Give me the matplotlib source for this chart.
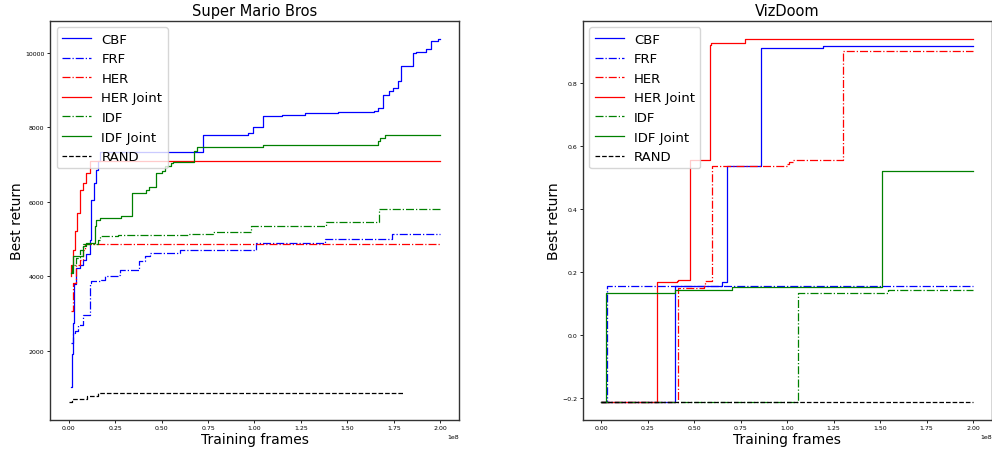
import matplotlib
matplotlib.use("Agg")
import matplotlib.pyplot as plt
import numpy as np

# frames in units of 1e8, step-post data
# ---- Super Mario Bros ----
mario_cbf_t = [0.014, 0.018, 0.023, 0.03, 0.041, 0.06, 0.077, 0.095, 0.113, 0.122, 0.135, 0.149, 0.158, 0.167,
               0.722, 0.964, 0.991, 1.045, 1.15, 1.269, 1.45, 1.645, 1.665, 1.69, 1.726, 1.744, 1.77, 1.789,
               1.851, 1.869, 1.923, 1.95, 1.986, 2.0]
mario_cbf_v = [1014, 1900, 2736, 3800, 4216, 4300, 4440, 4600, 4977, 6054, 6500, 6861, 7085, 7335,
               7803, 7848, 7999, 8295, 8330, 8385, 8410, 8430, 8520, 8879, 8987, 9059, 9237, 9641,
               10000, 10030, 10108, 10313, 10377, 10377]
mario_frf_t = [0.015, 0.023, 0.035, 0.05, 0.077, 0.1, 0.113, 0.122, 0.175, 0.194, 0.265, 0.275, 0.38, 0.38,
               0.41, 0.44, 0.6, 1.009, 1.38, 1.38, 1.74, 2.0]
mario_frf_v = [2198, 2467, 2511, 2690, 2960, 2960, 3812, 3856, 3901, 3990, 4036, 4170, 4216, 4394,
               4528, 4618, 4708, 4888, 4932, 4995, 5139, 5139]
mario_her_t = [0.015, 0.023, 0.041, 0.06, 0.077, 0.09, 2.0]
mario_her_v = [3049, 3812, 4300, 4440, 4700, 4870, 4870]
mario_herj_t = [0.012, 0.015, 0.023, 0.035, 0.045, 0.06, 0.077, 0.095, 0.113, 2.0]
mario_herj_v = [3990, 4300, 4708, 5200, 5696, 6323, 6503, 6772, 7085, 7085]
mario_idf_t = [0.012, 0.02, 0.04, 0.06, 0.08, 0.158, 0.167, 0.265, 0.641, 0.776, 0.982, 1.385, 1.668, 2.0]
mario_idf_v = [4100, 4300, 4500, 4700, 4850, 4977, 5066, 5112, 5139, 5174, 5354, 5443, 5803, 5803]
mario_idfj_t = [0.012, 0.023, 0.077, 0.095, 0.14, 0.15, 0.17, 0.283, 0.342, 0.418, 0.43, 0.47, 0.47, 0.5,
                0.52, 0.55, 0.56, 0.677, 0.69, 1.045, 1.349, 1.663, 1.675, 1.7, 2.0]
mario_idfj_v = [4081, 4547, 4798, 4888, 5335, 5516, 5561, 5624, 6234, 6323, 6400, 6457, 6772, 6816,
                6950, 7041, 7068, 7354, 7461, 7515, 7534, 7622, 7713, 7803, 7803]
mario_rand_t = [0.0, 0.02, 0.1, 0.16, 1.645, 1.8]
mario_rand_v = [627, 700, 780, 853, 870, 880]

# ---- VizDoom ----
doom_cbf_t = [0.0, 0.396, 0.647, 0.674, 0.859, 1.19, 2.0]
doom_cbf_v = [-0.21, 0.157, 0.168, 0.538, 0.911, 0.917, 0.917]
doom_frf_t = [0.0, 0.029, 2.0]
doom_frf_v = [-0.21, 0.158, 0.158]
doom_her_t = [0.0, 0.414, 0.552, 0.56, 0.593, 0.997, 1.01, 1.03, 1.298, 2.0]
doom_her_v = [-0.21, 0.149, 0.156, 0.173, 0.538, 0.544, 0.55, 0.557, 0.9, 0.9]
doom_herj_t = [0.0, 0.301, 0.405, 0.412, 0.477, 0.584, 0.59, 0.773, 2.0]
doom_herj_v = [-0.21, 0.168, 0.173, 0.177, 0.557, 0.922, 0.928, 0.94, 0.94]
doom_idf_t = [0.0, 1.059, 1.543, 2.0]
doom_idf_v = [-0.21, 0.135, 0.143, 0.143]
doom_idfj_t = [0.0, 0.025, 0.396, 0.701, 1.508, 2.0]
doom_idfj_v = [-0.21, 0.133, 0.145, 0.152, 0.521, 0.521]
doom_rand_t = [0.0, 2.0]
doom_rand_v = [-0.21, -0.21]

labels = ['CBF', 'FRF', 'HER', 'HER Joint', 'IDF', 'IDF Joint', 'RAND']
colors = ['b', 'b', 'r', 'r', 'g', 'g', 'k']
styles = ['-', '-.', '-.', '-', '-.', '-', '--']

mario = [(mario_cbf_t, mario_cbf_v), (mario_frf_t, mario_frf_v), (mario_her_t, mario_her_v),
         (mario_herj_t, mario_herj_v), (mario_idf_t, mario_idf_v), (mario_idfj_t, mario_idfj_v),
         (mario_rand_t, mario_rand_v)]
doom = [(doom_cbf_t, doom_cbf_v), (doom_frf_t, doom_frf_v), (doom_her_t, doom_her_v),
        (doom_herj_t, doom_herj_v), (doom_idf_t, doom_idf_v), (doom_idfj_t, doom_idfj_v),
        (doom_rand_t, doom_rand_v)]


def draw(ax, runs, title):
    for (t, v), lab, c, ls in zip(runs, labels, colors, styles):
        ax.plot(np.array(t) * 1e8, v, color=c, linestyle=ls, linewidth=0.9,
                drawstyle='steps-post', label=lab)
    ax.set_title(title, fontsize=10.5, pad=4)
    ax.set_xlabel('Training frames', fontsize=10, labelpad=1)
    ax.set_ylabel('Best return', fontsize=10, labelpad=0.5)
    ax.tick_params(labelsize=4.5, length=2, width=0.6, pad=2)
    ax.xaxis.get_offset_text().set_fontsize(4.5)
    for s in ax.spines.values():
        s.set_linewidth(1.0)
        s.set_color('#333333')
    ax.legend(loc='upper left', fontsize=9.5, handlelength=2.2)


fig = plt.figure(figsize=(9.92, 4.52), dpi=100)
ax1 = fig.add_axes([0.0504, 0.0692, 0.4123, 0.8827])
ax2 = fig.add_axes([0.5874, 0.0692, 0.4123, 0.8827])
draw(ax1, mario, 'Super Mario Bros')
draw(ax2, doom, 'VizDoom')
ax1.set_yticks([2000, 4000, 6000, 8000, 10000])
ax2.set_yticks([-0.2, 0.0, 0.2, 0.4, 0.6, 0.8])

fig.savefig('out.png', dpi=100)
